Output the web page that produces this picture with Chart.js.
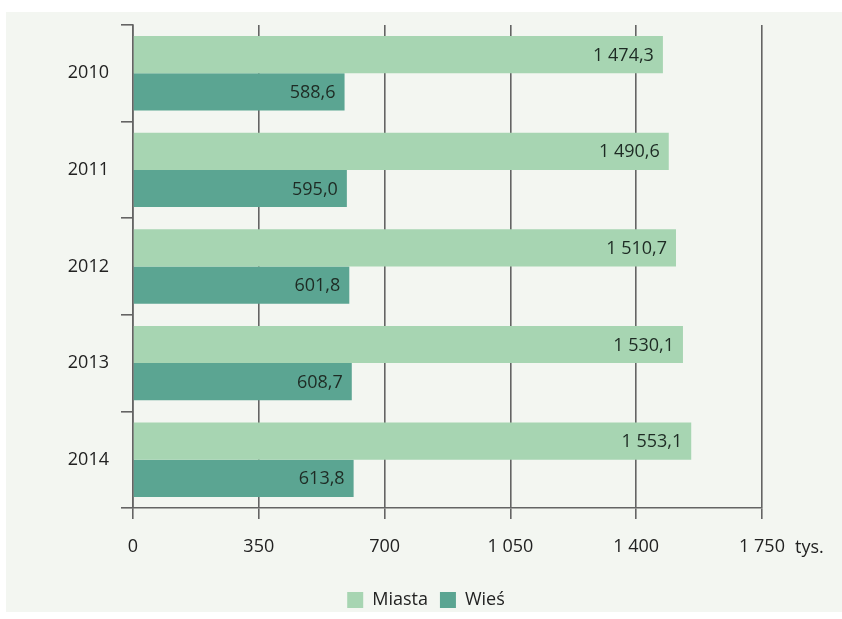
<!DOCTYPE html>
<html lang="pl">
<head>
  <meta charset="UTF-8">
  <title>Miasta i wieś 2010-2014</title>
  <script src="https://cdn.jsdelivr.net/npm/chart.js"></script>
  <style>
    body {
      margin: 0;
      background: #ffffff;
    }

    #panel {
      position: absolute;
      left: 6px;
      top: 12px;
      width: 836px;
      height: 600px;
      background: #f3f6f1;
    }
  </style>
</head>
<body>
  <div id="panel">
    <canvas id="popChart" width="836" height="600"></canvas>
  </div>

  <script>
    const years = ['2010', '2011', '2012', '2013', '2014'];
    const miasta = [1474.3, 1490.6, 1510.7, 1530.1, 1553.1];
    const wies = [588.6, 595.0, 601.8, 608.7, 613.8];
    const xTickLabels = ['0', '350', '700', '1 050', '1 400', '1 750'];
    const unitLabel = 'tys.';

    const FONT = "'Open Sans', 'DejaVu Sans', sans-serif";
    const GRID = '#646464';
    const TEXT = '#222';

    // 1474.3 -> "1 474,3"
    function plNumber(v) {
      const parts = v.toFixed(1).split('.');
      return parts[0].replace(/\B(?=(\d{3})+(?!\d))/g, ' ') + ',' + parts[1];
    }

    // values at the end of each bar
    const valueLabels = {
      id: 'valueLabels',
      afterDatasetsDraw(chart) {
        const ctx = chart.ctx;
        ctx.save();
        ctx.font = '18px ' + FONT;
        ctx.fillStyle = '#1e2b24';
        ctx.textAlign = 'right';
        ctx.textBaseline = 'middle';
        chart.data.datasets.forEach((ds, i) => {
          chart.getDatasetMeta(i).data.forEach((bar, j) => {
            ctx.fillText(plNumber(ds.data[j]), bar.x - 9, bar.y + 1);
          });
        });
        ctx.restore();
      }
    };

    // "tys." next to the last tick
    const unitText = {
      id: 'unitText',
      afterDraw(chart) {
        const xs = chart.scales.x;
        const ctx = chart.ctx;
        ctx.save();
        ctx.font = '18px ' + FONT;
        ctx.fillStyle = TEXT;
        ctx.textAlign = 'left';
        ctx.textBaseline = 'middle';
        ctx.fillText(unitLabel, xs.getPixelForValue(1750) + 33, xs.top + 40);
        ctx.restore();
      }
    };

    // move legend to the centre of the panel
    const legendShift = {
      id: 'legendShift',
      afterLayout(chart) {
        const lg = chart.legend;
        lg.left += 42; lg.right += 42;
        lg.top += 7; lg.bottom += 7;
      }
    };

    new Chart(document.getElementById('popChart'), {
      type: 'bar',
      data: {
        labels: years,
        datasets: [
          {
            label: 'Miasta',
            data: miasta,
            backgroundColor: '#a7d5b2',
            categoryPercentage: 0.77,
            barPercentage: 1
          },
          {
            label: 'Wieś',
            data: wies,
            backgroundColor: '#5ba592',
            categoryPercentage: 0.77,
            barPercentage: 1
          }
        ]
      },
      options: {
        indexAxis: 'y',
        responsive: false,
        animation: false,
        layout: {
          padding: { top: 13, right: 80, bottom: 0, left: 0 }
        },
        scales: {
          x: {
            min: 0,
            max: 1750,
            afterFit: s => { s.height = 64; },
            afterBuildTicks: s => {
              s.ticks = xTickLabels.map((t, i) => ({ value: i * 350 }));
            },
            ticks: {
              callback: (v, i) => xTickLabels[i],
              font: { family: FONT, size: 18 },
              color: TEXT,
              padding: 17,
              maxRotation: 0
            },
            grid: {
              color: GRID,
              lineWidth: 1.6,
              tickLength: 11
            },
            border: { color: GRID, width: 1.6 }
          },
          y: {
            afterFit: s => {
              s.width = 127;
              s.paddingTop = 0;
              s.paddingBottom = 0;
            },
            ticks: {
              font: { family: FONT, size: 18 },
              color: TEXT,
              padding: 12
            },
            grid: {
              offset: true,
              drawOnChartArea: false,
              color: GRID,
              lineWidth: 1.6,
              tickLength: 12
            },
            border: { color: GRID, width: 1.6 }
          }
        },
        plugins: {
          legend: {
            position: 'bottom',
            labels: {
              font: { family: FONT, size: 18 },
              color: TEXT,
              boxWidth: 16,
              boxHeight: 16,
              padding: 12
            }
          },
          tooltip: { enabled: false }
        }
      },
      plugins: [valueLabels, unitText, legendShift]
    });
  </script>
</body>
</html>
